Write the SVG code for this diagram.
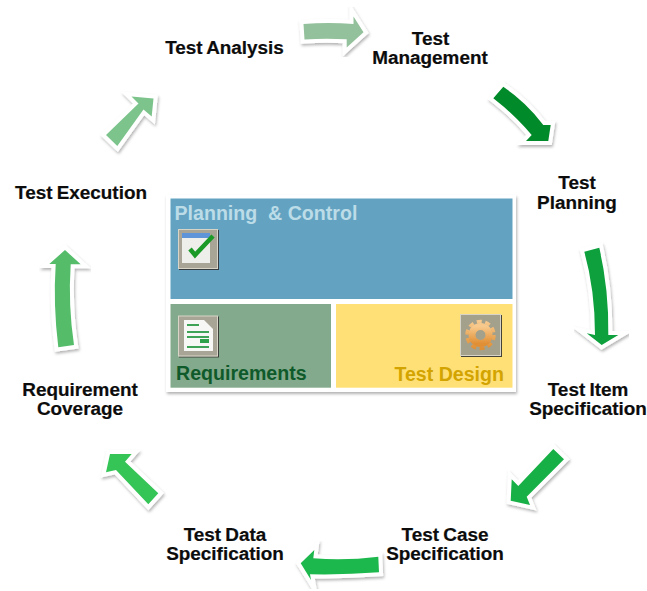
<svg xmlns="http://www.w3.org/2000/svg" width="647" height="591" viewBox="0 0 647 591">
<style>
.l{font-family:"Liberation Sans",Arial,sans-serif;font-weight:700;font-size:18.9px;fill:#0c0c0c;text-anchor:middle;word-spacing:-1px;stroke:#0c0c0c;stroke-width:.2px}
.p{font-family:"Liberation Sans",Arial,sans-serif;font-weight:700;font-size:19.6px;white-space:pre}
.a{stroke:#fff;stroke-width:8px;stroke-linejoin:miter;stroke-miterlimit:6;paint-order:stroke;filter:url(#s)}
.ib{fill:#a9a596;stroke:#d8d5c8;stroke-width:1px;filter:url(#i)}
</style>
<defs>
<filter id="s" x="-30%" y="-30%" width="160%" height="160%"><feDropShadow dx="1" dy="2" stdDeviation="1.6" flood-color="#000" flood-opacity=".3"/></filter>
<filter id="i" x="-10%" y="-10%" width="125%" height="125%"><feDropShadow dx="1" dy="1" stdDeviation=".4" flood-color="#333" flood-opacity=".9"/></filter>
<linearGradient id="g" x1="0" y1="0" x2="0" y2="1"><stop offset="0" stop-color="#f8c98c"/><stop offset="1" stop-color="#e08f35"/></linearGradient>
</defs>
<rect width="647" height="591" fill="#fff"/>
<g id="connectors">
<path class="a" fill="#93c19b" d="M303.5 24Q328 22 353.5 24V16.5L363.5 32.3L346.7 47.5V39.3Q325 38 304.5 39.5Z"/>
<path class="a" fill="#7cc48c" d="M106 135L138.5 103.5L131.5 96.5L153.5 98.5L151.7 116.5L143.5 109.5L117.3 146Z"/>
<path class="a" fill="#048a2c" d="M493.3 98.3L503.3 86.7Q527 103 543.3 125L550.7 125L548.3 141L526 141L531.7 135Q515 115 493.3 98.3Z"/>
<path class="a" fill="#0ba03c" d="M584.3 251.7L599.3 247.7Q609 290 608.3 335L618.3 335L601.7 345L586.7 333.3L595 335Q595 290 584.3 251.7Z"/>
<path class="a" fill="#19b046" d="M553.3 449L564 459.3L526.7 496.7L530 505L510.7 500.7L511.7 479.3L518.3 486Z"/>
<path class="a" fill="#1fb84e" d="M378.3 556.7L379 572.3Q345 575 310 574.3L311 580L300.7 563.3L314.3 550L313.3 558.3Q345 561 378.3 556.7Z"/>
<path class="a" fill="#35c457" d="M158.3 493.3L148.3 504.3L116 470L106 472.3L110 454L131.7 454L125 461.7Z"/>
<path class="a" fill="#55bd6b" d="M58.3 347.3L74 345Q68 305 70.7 264.3L80.7 264.3L65 250L49.3 264L55.7 264Q53 305 58.3 347.3Z"/>
</g>
<g id="panel">
<rect x="166" y="195" width="350" height="197" fill="#fff" filter="url(#s)"/>
<g id="planning-control">
<rect x="170.5" y="198.5" width="342" height="100.5" fill="#63a3c1"/>
<text class="p" x="174.5" y="220" fill="#bcdce8">Planning  &amp; Control</text>
<rect class="ib" x="178.5" y="229.5" width="39" height="39"/>
<rect x="182" y="233" width="28" height="30" fill="#eeeeea"/>
<rect x="182" y="233" width="28" height="5" fill="#5d95d8"/>
<path d="M190 249L195 255L213 236" fill="none" stroke="#1c9a28" stroke-width="4.5"/>
</g>
<g id="requirements">
<rect x="170.5" y="304" width="160.5" height="83.7" fill="#83aa8c"/>
<rect class="ib" x="178.5" y="316" width="39" height="40"/>
<path d="M184 320H204L213 329V351H184Z" fill="#f7f8f5"/>
<path d="M187 325H199M187 332H209M187 337H209M187 347H209" stroke="#3fa357" stroke-width="2"/>
<rect x="200" y="339" width="9" height="4" fill="#2ea24a"/>
<text class="p" x="176" y="379.5" fill="#0f5a2a">Requirements</text>
</g>
<g id="test-design">
<rect x="336" y="304" width="176.5" height="83.7" fill="#ffe077"/>
<rect class="ib" x="460.5" y="314.5" width="40" height="41" style="fill:#a3a08c"/>
<circle cx="480.5" cy="335" r="13.5" fill="none" stroke="url(#g)" stroke-width="3.5" stroke-dasharray="5 3.5"/>
<circle cx="480.5" cy="335" r="8.5" fill="none" stroke="url(#g)" stroke-width="7"/>
<text class="p" x="504" y="380.5" fill="#d3a400" text-anchor="end">Test Design</text>
</g>
</g>
<g id="test-analysis"><text class="l" x="224.5" y="54">Test Analysis</text></g>
<g id="test-management"><text class="l" x="430.5" y="45">Test</text><text class="l" x="430" y="64">Management</text></g>
<g id="test-planning"><text class="l" x="577" y="189">Test</text><text class="l" x="577" y="209">Planning</text></g>
<g id="test-item-specification"><text class="l" x="588" y="396">Test Item</text><text class="l" x="588" y="415">Specification</text></g>
<g id="test-case-specification"><text class="l" x="445" y="541">Test Case</text><text class="l" x="445" y="560">Specification</text></g>
<g id="test-data-specification"><text class="l" x="225" y="541">Test Data</text><text class="l" x="225" y="560">Specification</text></g>
<g id="requirement-coverage"><text class="l" x="80" y="396">Requirement</text><text class="l" x="80" y="415">Coverage</text></g>
<g id="test-execution"><text class="l" x="81" y="199">Test Execution</text></g>
</svg>
